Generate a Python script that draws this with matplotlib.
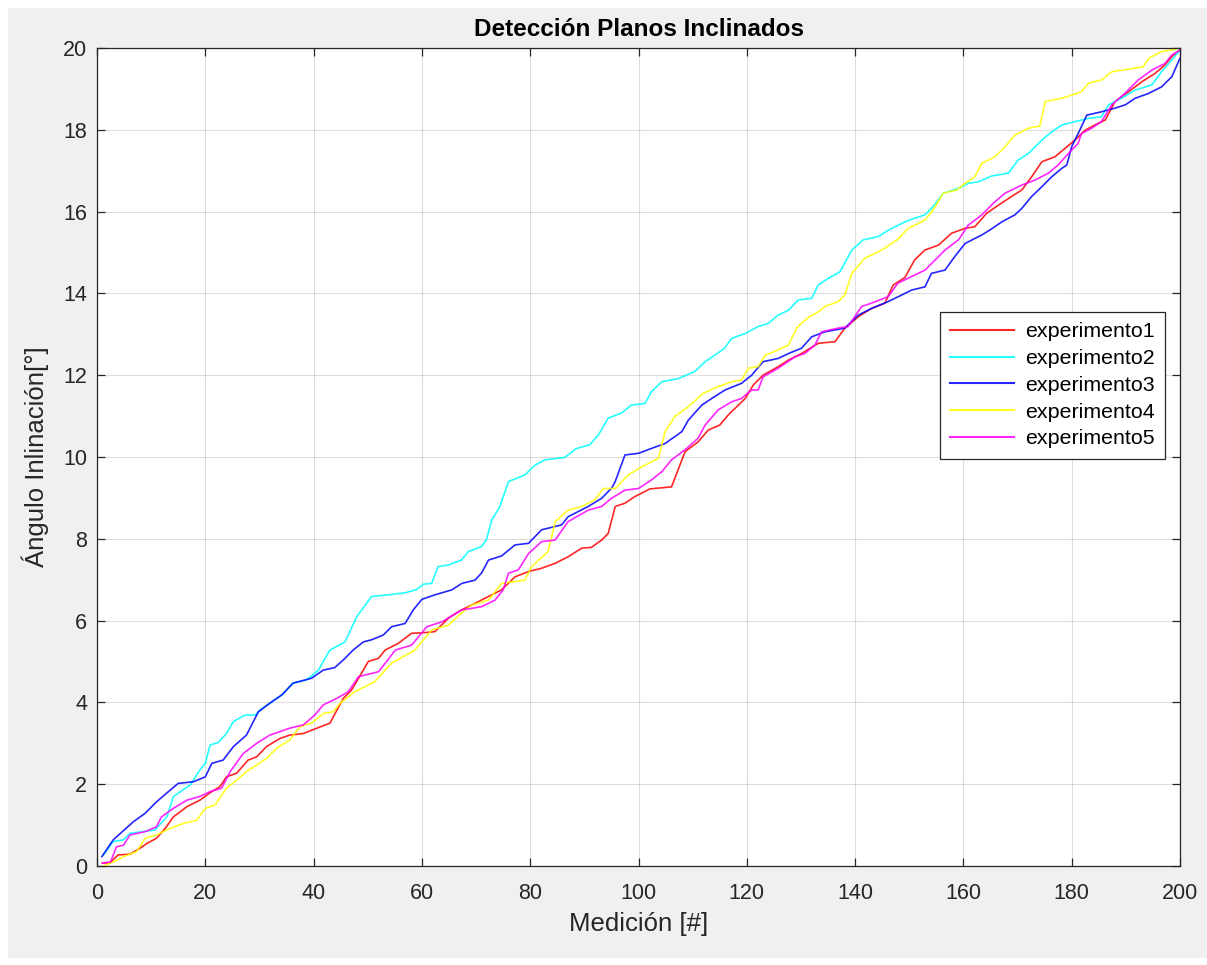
import matplotlib
matplotlib.use("Agg")
import matplotlib.pyplot as plt
from matplotlib.patches import Rectangle

plt.rcParams['font.family'] = ['Liberation Sans', 'DejaVu Sans']

title = "Detección Planos Inclinados"
xlabel = "Medición [#]"
ylabel = "Ángulo Inlinación[°]"
labels = ["experimento1", "experimento2", "experimento3", "experimento4", "experimento5"]
colors = ["#ff0000", "#00ffff", "#0000ff", "#ffff00", "#ff00ff"]
xticks = list(range(0, 201, 20))
yticks = list(range(0, 21, 2))

exp1_x = [1, 2.4, 3.9, 6.1, 7.9, 9.2, 11, 12.6, 14.1, 16.6, 19, 21.2, 22.7, 23.9, 25.8, 27.9, 29.5, 31.3, 33.8, 35.6, 38.1, 40.6, 43, 44.3, 45.5, 47, 48.3, 50.1, 52, 53.2, 55.6, 58.1, 60, 62.4, 64.9, 67.3, 69.8, 72.3, 74.7, 77.2, 79.7, 82.1, 84.6, 87, 89.5, 91.3, 93.2, 94.4, 95.7, 97.5, 99.3, 102.1, 106.1, 108.6, 111, 112.9, 115, 116.6, 119.7, 121.2, 123, 125.8, 127.7, 130.1, 133.2, 136.3, 138.1, 140.6, 143, 145.5, 147, 149.2, 151, 152.9, 155.4, 157.8, 160.3, 162.1, 164.3, 166.5, 168.9, 170.8, 172.6, 174.5, 176.9, 178.8, 180.6, 182.5, 184.3, 186.2, 188, 190.5, 193, 195.4, 197.2, 198.5, 200]
exp1_y = [0.07, 0.08, 0.27, 0.29, 0.43, 0.55, 0.68, 0.92, 1.2, 1.45, 1.61, 1.82, 1.94, 2.18, 2.27, 2.59, 2.67, 2.92, 3.12, 3.2, 3.24, 3.37, 3.49, 3.81, 4.1, 4.3, 4.59, 5.0, 5.08, 5.28, 5.44, 5.69, 5.7, 5.73, 6.06, 6.26, 6.42, 6.59, 6.75, 7.07, 7.2, 7.28, 7.4, 7.56, 7.77, 7.79, 7.97, 8.13, 8.79, 8.87, 9.03, 9.22, 9.27, 10.13, 10.37, 10.66, 10.78, 11.03, 11.43, 11.76, 12.0, 12.21, 12.37, 12.53, 12.78, 12.82, 13.15, 13.43, 13.63, 13.76, 14.2, 14.39, 14.82, 15.06, 15.18, 15.47, 15.59, 15.63, 15.96, 16.16, 16.37, 16.53, 16.85, 17.22, 17.34, 17.55, 17.75, 17.99, 18.12, 18.24, 18.69, 18.93, 19.18, 19.38, 19.58, 19.79, 19.95]

exp2_x = [1.2, 3, 4.9, 6.1, 10.7, 12.9, 14.1, 17.2, 19, 20, 20.9, 22.4, 23.9, 25.2, 27.3, 29.2, 30.1, 31.9, 34.1, 36.2, 38.7, 40.9, 43, 45.8, 48, 50.7, 53.8, 56.9, 59, 60.3, 61.8, 63, 64.9, 67.3, 68.6, 71, 71.9, 72.9, 74.4, 76, 79, 80.9, 82.7, 86.4, 88.4, 91, 92.6, 94.4, 96.9, 98.7, 101.2, 102.4, 104.3, 107.4, 110.4, 112.3, 114.1, 115.9, 117.2, 119.7, 122.1, 124, 125.8, 127.7, 129.5, 132, 133.2, 135.1, 137.2, 139.4, 141.5, 144.3, 146.2, 149.2, 151, 152.9, 154.4, 156.3, 159.1, 160.9, 162.8, 165.2, 168.3, 170.1, 172, 174.5, 176.3, 178.2, 180.6, 183.1, 185.5, 186.8, 189.2, 191.7, 194.8, 196.6, 198.5, 200]
exp2_y = [0.27, 0.6, 0.64, 0.8, 0.88, 1.2, 1.7, 1.98, 2.35, 2.51, 2.96, 3.02, 3.24, 3.53, 3.69, 3.69, 3.81, 3.98, 4.18, 4.47, 4.55, 4.79, 5.28, 5.48, 6.1, 6.59, 6.63, 6.68, 6.76, 6.89, 6.91, 7.32, 7.36, 7.48, 7.69, 7.81, 7.97, 8.46, 8.79, 9.4, 9.56, 9.8, 9.93, 9.99, 10.2, 10.3, 10.54, 10.95, 11.08, 11.27, 11.31, 11.6, 11.84, 11.92, 12.09, 12.33, 12.49, 12.66, 12.9, 13.02, 13.19, 13.27, 13.47, 13.59, 13.84, 13.88, 14.21, 14.37, 14.53, 15.06, 15.31, 15.39, 15.55, 15.75, 15.84, 15.92, 16.12, 16.45, 16.57, 16.69, 16.73, 16.87, 16.94, 17.26, 17.42, 17.75, 17.95, 18.12, 18.2, 18.28, 18.32, 18.61, 18.77, 18.97, 19.1, 19.42, 19.71, 19.95]

exp3_x = [0.9, 3, 6.7, 8.9, 11, 13.2, 15, 17.8, 20, 21.2, 23.3, 25.2, 27.6, 29.8, 31.9, 34.1, 36.2, 39.6, 41.8, 43.9, 45.5, 47.3, 49.2, 50.7, 52.9, 54.4, 56.9, 58.4, 60, 62.4, 65.5, 67.4, 69.8, 71, 72.3, 74.7, 77.2, 79.7, 82.1, 85.8, 87, 90.7, 93.2, 95.1, 95.7, 97.5, 100, 102.4, 104.9, 108, 109.2, 111.7, 113.5, 116, 119, 120.9, 123, 125.8, 127.7, 130.1, 132, 134.4, 138.1, 140.6, 143, 146.1, 148.6, 150.4, 152.9, 154.1, 156.6, 158.4, 160.3, 163.4, 164.9, 167.1, 169.5, 170.8, 172.6, 174.5, 176.3, 178.2, 179.1, 180, 181.2, 182.8, 185.5, 188, 189.9, 191.7, 194.2, 196.6, 198.5, 200]
exp3_y = [0.23, 0.64, 1.08, 1.29, 1.57, 1.82, 2.02, 2.06, 2.18, 2.51, 2.59, 2.92, 3.2, 3.77, 3.98, 4.18, 4.47, 4.59, 4.79, 4.85, 5.04, 5.28, 5.48, 5.53, 5.65, 5.85, 5.93, 6.26, 6.52, 6.63, 6.75, 6.91, 6.99, 7.16, 7.48, 7.58, 7.85, 7.89, 8.22, 8.34, 8.54, 8.79, 8.99, 9.25, 9.4, 10.05, 10.09, 10.21, 10.33, 10.62, 10.9, 11.27, 11.43, 11.64, 11.8, 12.0, 12.33, 12.41, 12.53, 12.66, 12.94, 13.06, 13.15, 13.47, 13.63, 13.8, 13.96, 14.08, 14.16, 14.49, 14.57, 14.9, 15.22, 15.43, 15.55, 15.75, 15.92, 16.08, 16.37, 16.61, 16.85, 17.06, 17.14, 17.59, 17.91, 18.36, 18.44, 18.53, 18.61, 18.77, 18.89, 19.05, 19.3, 19.75]

exp4_x = [1.2, 3, 4.9, 7.3, 8.9, 11, 13.5, 15.9, 18.4, 20, 21.8, 23.9, 25.8, 27.6, 29.5, 31.3, 33.2, 35.6, 37.5, 39.6, 41.8, 43.6, 44.9, 47.6, 51.3, 54.4, 58.7, 61.8, 64.9, 67.3, 69.2, 72.3, 74.7, 79, 80.3, 83.3, 84.6, 87, 89.5, 91.9, 93.5, 95.7, 98.1, 100.6, 103.7, 104.9, 106.7, 109.2, 112, 114.7, 117.2, 119, 120.3, 122.1, 123.4, 125.8, 127.7, 129.2, 131.1, 133.2, 134.4, 136.9, 138.1, 139.4, 141.8, 144.9, 147.8, 149.8, 152.9, 154.4, 156.3, 158.8, 160.3, 162.1, 163.4, 165.8, 167.7, 169.5, 172, 174.1, 175.1, 178.2, 181.8, 183.1, 185.5, 187.4, 190.4, 193.2, 194.2, 196.6, 200]
exp4_y = [0.0, 0.1, 0.23, 0.35, 0.68, 0.76, 0.92, 1.04, 1.12, 1.41, 1.49, 1.9, 2.1, 2.31, 2.47, 2.63, 2.88, 3.08, 3.41, 3.49, 3.73, 3.77, 3.98, 4.26, 4.51, 4.96, 5.28, 5.77, 5.89, 6.18, 6.38, 6.5, 6.91, 6.99, 7.32, 7.69, 8.42, 8.7, 8.79, 8.95, 9.23, 9.23, 9.56, 9.76, 9.97, 10.62, 10.99, 11.23, 11.56, 11.72, 11.84, 11.88, 12.17, 12.21, 12.49, 12.62, 12.74, 13.15, 13.39, 13.55, 13.68, 13.8, 13.96, 14.49, 14.86, 15.06, 15.31, 15.59, 15.79, 16.04, 16.45, 16.53, 16.69, 16.85, 17.18, 17.34, 17.59, 17.87, 18.04, 18.09, 18.69, 18.77, 18.93, 19.14, 19.22, 19.42, 19.48, 19.54, 19.75, 19.91, 19.99]

exp5_x = [1, 2.5, 3.6, 4.9, 6.1, 8.9, 11, 11.9, 14.1, 16.6, 19, 20.9, 23, 24.6, 27, 29.5, 31.9, 35.6, 38.1, 40.2, 41.8, 44.3, 46.4, 48.3, 52, 55.1, 58.1, 60.9, 63.7, 67.3, 71, 73.5, 75, 76, 77.8, 79.7, 82.1, 84.6, 87, 90.7, 93.2, 95, 97.5, 100, 102.4, 104.3, 106.1, 108.9, 111, 112.3, 114.7, 117.2, 119, 120.9, 122.1, 123, 125.8, 128.9, 130.7, 132.6, 133.8, 136.8, 138.7, 141.2, 143, 146.1, 147.9, 150.4, 152.9, 154.8, 156.6, 159.1, 160.9, 163.4, 165.8, 167.7, 170.8, 173.2, 175.7, 177.5, 179.4, 181.2, 181.8, 183.7, 185.5, 187.4, 189.8, 192.3, 194.8, 197.2, 198.5, 200]
exp5_y = [0.07, 0.1, 0.47, 0.51, 0.76, 0.84, 0.96, 1.2, 1.41, 1.61, 1.7, 1.82, 1.9, 2.31, 2.75, 3.0, 3.2, 3.37, 3.45, 3.69, 3.94, 4.1, 4.26, 4.63, 4.75, 5.28, 5.4, 5.85, 5.97, 6.26, 6.34, 6.5, 6.75, 7.16, 7.24, 7.64, 7.93, 7.97, 8.42, 8.7, 8.79, 8.99, 9.19, 9.23, 9.44, 9.64, 9.93, 10.21, 10.46, 10.78, 11.15, 11.35, 11.43, 11.64, 11.64, 11.96, 12.17, 12.45, 12.53, 12.74, 13.06, 13.15, 13.19, 13.68, 13.76, 13.92, 14.25, 14.41, 14.57, 14.82, 15.06, 15.31, 15.67, 15.92, 16.24, 16.45, 16.65, 16.77, 16.94, 17.14, 17.42, 17.67, 17.91, 18.04, 18.2, 18.61, 18.89, 19.22, 19.46, 19.62, 19.83, 19.95]

series = [(exp1_x, exp1_y), (exp2_x, exp2_y), (exp3_x, exp3_y), (exp4_x, exp4_y), (exp5_x, exp5_y)]

W, H = 1207, 965
fig = plt.figure(figsize=(W / 100, H / 100), dpi=100, facecolor="white")
fig.patches.append(Rectangle((8 / W, 7 / H), 1 - 8 / W, 1 - 15 / H, transform=fig.transFigure,
                             facecolor="#f0f0f0", edgecolor="none", zorder=-10))
ax = fig.add_axes([97 / W, (H - 866) / H, (1180 - 97) / W, (866 - 48) / H])
ax.set_facecolor("white")

for (xs, ys), c, lab in zip(series, colors, labels):
    ax.plot(xs, ys, color=c, lw=1.2, alpha=0.85, label=lab)

ax.set_xlim(0, 200)
ax.set_ylim(0, 20)
ax.set_xticks(xticks)
ax.set_yticks(yticks)
ax.grid(True, color="#262626", alpha=0.15, lw=0.8)
ax.set_axisbelow(True)
ax.tick_params(direction="in", top=True, right=True, length=6, width=0.9,
               colors="#262626", labelsize=15.5)
ax.tick_params(axis="x", pad=12)
ax.tick_params(axis="y", pad=7)
for s in ax.spines.values():
    s.set_color("#262626")
    s.set_linewidth(0.9)

ax.set_title(title, fontsize=17.5, fontweight="bold", color="black", pad=9)
ax.set_xlabel(xlabel, fontsize=18.5, color="#262626", labelpad=6)
ax.set_ylabel(ylabel, fontsize=18.5, color="#262626", labelpad=10)

leg = ax.legend(loc="upper right", bbox_to_anchor=(0.986, 0.677), fontsize=15.4,
                fancybox=False, framealpha=1, edgecolor="#262626", handlelength=3.0,
                borderpad=0.48, labelspacing=0.36, handletextpad=0.5, borderaxespad=0)
leg.get_frame().set_linewidth(0.9)
for h in leg.get_lines():
    h.set_linewidth(1.5)

fig.savefig("out.png", dpi=100, facecolor=fig.get_facecolor())
